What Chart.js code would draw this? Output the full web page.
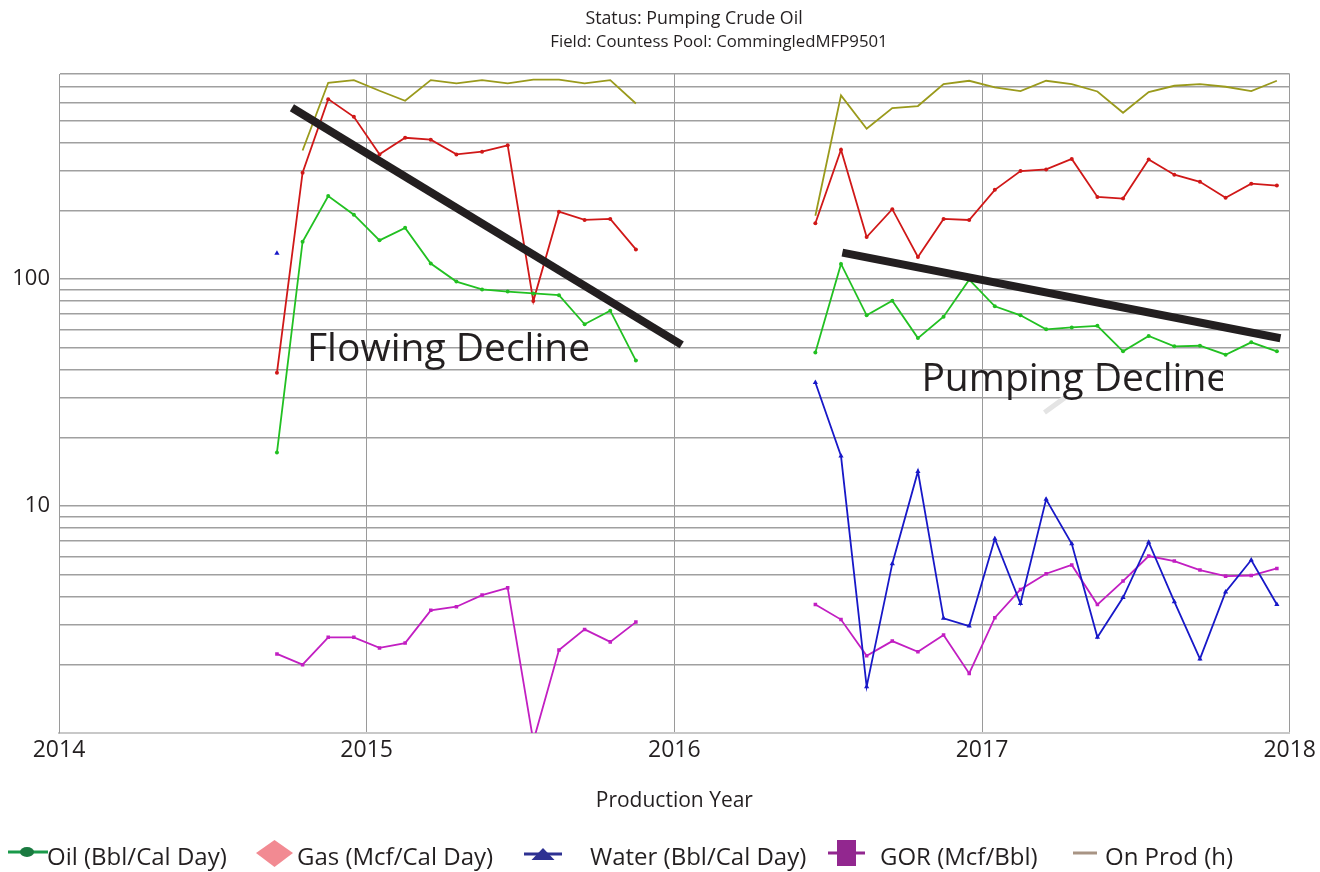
<!DOCTYPE html>
<html>
<head>
<meta charset="utf-8">
<script src="https://cdn.jsdelivr.net/npm/chart.js@4.4.1/dist/chart.umd.min.js"></script>
<style>
  html, body { margin: 0; padding: 0; background: #fff; }
  body { width: 1320px; height: 872px; position: relative; overflow: hidden; font-family: "Open Sans", sans-serif; color: #231f20; }
  #wrap { position: absolute; left: 0; top: 0; width: 1320px; height: 872px; }
  .title { position: absolute; width: 500px; text-align: center; font-size: 17px; line-height: 24px; white-space: nowrap; }
  .leg { position: absolute; top: 838px; height: 36px; font-size: 24px; line-height: 36px; white-space: nowrap; }
  .leg svg { position: absolute; top: 0; }
</style>
</head>
<body>
<div id="wrap"><canvas id="prodChart"></canvas></div>
<div class="title" style="top:5px;left:444px;font-size:17.8px">Status: Pumping Crude Oil</div>
<div class="title" style="top:29px;left:469px;font-size:16.8px">Field: Countess Pool: CommingledMFP9501</div>

<div class="leg" style="left:8px">
  <svg width="42" height="36"><line x1="0" y1="14" x2="40" y2="14" stroke="#1a9a4a" stroke-width="3"/><ellipse cx="19" cy="14" rx="7" ry="5" fill="#1a7a40"/></svg>
  <span style="position:absolute;left:39px">Oil (Bbl/Cal Day)</span>
</div>
<div class="leg" style="left:256px">
  <svg width="38" height="36"><polygon points="0,15 18.5,2 37,15 18.5,29" fill="#f28a92"/></svg>
  <span style="position:absolute;left:41px">Gas (Mcf/Cal Day)</span>
</div>
<div class="leg" style="left:524px">
  <svg width="40" height="36"><line x1="0" y1="16" x2="38" y2="16" stroke="#2e3192" stroke-width="3"/><polygon points="7.5,22 30.5,22 19,10" fill="#2e3192"/></svg>
  <span style="position:absolute;left:66px">Water (Bbl/Cal Day)</span>
</div>
<div class="leg" style="left:828px">
  <svg width="40" height="36"><line x1="0" y1="15" x2="37" y2="15" stroke="#92278f" stroke-width="3"/><rect x="9" y="2" width="19" height="26" fill="#92278f"/></svg>
  <span style="position:absolute;left:52px">GOR (Mcf/Bbl)</span>
</div>
<div class="leg" style="left:1073px">
  <svg width="26" height="36"><line x1="0" y1="15" x2="24" y2="15" stroke="#a89484" stroke-width="3"/></svg>
  <span style="position:absolute;left:32px">On Prod (h)</span>
</div>

<script>
// monthly values
var months1 = ['2014-09','2014-10','2014-11','2014-12','2015-01','2015-02','2015-03','2015-04','2015-05','2015-06','2015-07','2015-08','2015-09','2015-10','2015-11'];
var months2 = ['2016-06','2016-07','2016-08','2016-09','2016-10','2016-11','2016-12','2017-01','2017-02','2017-03','2017-04','2017-05','2017-06','2017-07','2017-08','2017-09','2017-10','2017-11','2017-12'];

var oil1 = [17.2, 146, 232, 192, 148, 168, 117, 97.4, 90.0, 88.0, 86.4, 84.9, 63.2, 72.5, 43.7];
var oil2 = [47.5, 116.5, 69.2, 80.2, 54.9, 68.2, 99.3, 75.8, 69.2, 60.0, 61.2, 62.2, 48.0, 56.1, 50.5, 50.8, 46.4, 52.6, 48.0];

var gas1 = [38.6, 294, 620, 518, 354, 419, 411, 354, 364, 388, 79.9, 198, 182, 184, 135];
var gas2 = [176, 371, 153, 203, 125, 184, 182, 247, 299, 304, 338, 230, 226, 336, 288, 268, 228, 263, 258];

var water1 = [130, null, null, null, null, null, null, null, null, null, null, null, null, null, null];
var water2 = [35.0, 16.6, 1.60, 5.57, 14.2, 3.20, 2.96, 7.18, 3.72, 10.7, 6.82, 2.64, 3.95, 6.93, 3.79, 2.12, 4.18, 5.78, 3.68];

var gor1 = [2.23, 2.00, 2.64, 2.64, 2.37, 2.49, 3.47, 3.60, 4.05, 4.36, 0.92, 2.32, 2.86, 2.52, 3.08];
var gor2 = [3.68, 3.16, 2.19, 2.54, 2.28, 2.70, 1.83, 3.22, 4.29, 5.03, 5.50, 3.68, 4.67, 6.02, 5.72, 5.22, 4.91, 4.94, 5.31];

var onProd1 = [null, 368, 732, 752, 675, 610, 752, 728, 752, 728, 755, 755, 728, 752, 593];
var onProd2 = [190, 644, 459, 566, 578, 722, 747, 698, 673, 747, 722, 670, 540, 666, 710, 722, 703, 673, 747];

// hand drawn decline lines (year, rate)
var flowingTrend = [[2014.757, 568], [2016.024, 51.3]];
var pumpingTrend = [[2016.546, 130.6], [2017.97, 54.8]];
var strayMark = [[2017.203, 25.8], [2017.275, 30.4]];

var yearTicks = [2014, 2015, 2016, 2017, 2018];
var yTicks = [1,2,3,4,5,6,7,8,9,10,20,30,40,50,60,70,80,90,100,200,300,400,500,600,700,800];
var yLabels = [10, 100];

function toYear(m){
  var p = m.split('-');
  return +p[0] + (+p[1] - 0.5) / 12;
}
function pts(months, vals){
  var out = [];
  for (var i in months) out.push({x: toYear(months[i]), y: vals[i]});
  return out;
}
function pairs(arr){
  return arr.map(function(p){ return {x: p[0], y: p[1]}; });
}

var notes = {
  id: 'notes',
  afterDatasetsDraw: function(chart){
    var ctx = chart.ctx, x = chart.scales.x, y = chart.scales.y;
    ctx.save();
    ctx.font = '39px "Open Sans"';
    ctx.fillStyle = '#231f20';
    ctx.textBaseline = 'alphabetic';
    ctx.fillText('Flowing Decline', x.getPixelForValue(2014.806), y.getPixelForValue(43.5));
    ctx.beginPath();
    ctx.rect(0, 0, 1223, chart.height);
    ctx.clip();
    ctx.fillText('Pumping Decline', x.getPixelForValue(2016.803), y.getPixelForValue(32.2));
    ctx.restore();
  }
};

function series(label, data, color, style, radius){
  return {
    label: label, data: data, borderColor: color, backgroundColor: color,
    borderWidth: 1.8, pointStyle: style, pointRadius: radius, pointBorderWidth: 0,
    spanGaps: false, tension: 0
  };
}

var ctx = document.getElementById('prodChart');
var prodChart = new Chart(ctx, {
  type: 'line',
  data: {
    datasets: [
      {label: 'flowing', data: pairs(flowingTrend), borderColor: '#231f20', borderWidth: 8, pointRadius: 0, borderCapStyle: 'butt'},
      {label: 'pumping', data: pairs(pumpingTrend), borderColor: '#231f20', borderWidth: 8, pointRadius: 0, borderCapStyle: 'butt'},
      series('Oil (Bbl/Cal Day)', pts(months1, oil1), '#22c022', 'circle', 2),
      series('Oil (Bbl/Cal Day) 2', pts(months2, oil2), '#22c022', 'circle', 2),
      series('Gas (Mcf/Cal Day)', pts(months1, gas1), '#d01818', 'circle', 2),
      series('Gas (Mcf/Cal Day) 2', pts(months2, gas2), '#d01818', 'circle', 2),
      series('Water (Bbl/Cal Day)', pts(months1, water1), '#1818c8', 'triangle', 3),
      series('Water (Bbl/Cal Day) 2', pts(months2, water2), '#1818c8', 'triangle', 3),
      series('GOR (Mcf/Bbl)', pts(months1, gor1), '#c21fc2', 'rect', 2.5),
      series('GOR (Mcf/Bbl) 2', pts(months2, gor2), '#c21fc2', 'rect', 2.5),
      series('On Prod (h)', pts(months1, onProd1), '#9a9a1c', 'circle', 0),
      series('On Prod (h) 2', pts(months2, onProd2), '#9a9a1c', 'circle', 0),
      {label: 'mark', data: pairs(strayMark), borderColor: '#e4e4e4', borderWidth: 5, pointRadius: 0}
    ]
  },
  options: {
    responsive: true,
    maintainAspectRatio: false,
    animation: false,
    layout: {padding: {top: 74, left: 0, right: 30, bottom: 60}},
    plugins: {legend: {display: false}, tooltip: {enabled: false}},
    scales: {
      x: {
        type: 'linear', min: 2014, max: 2018,
        afterBuildTicks: function(s){ s.ticks = yearTicks.map(function(v){ return {value: v}; }); },
        afterFit: function(s){ s.height = 79; },
        ticks: {font: {family: 'Open Sans', size: 23}, color: '#231f20', padding: 4, callback: function(v){ return String(v); }},
        grid: {color: '#9a9a9a', lineWidth: 1, drawTicks: false},
        border: {color: '#c8c8c8', width: 2},
        title: {display: true, text: 'Production Year', font: {family: 'Open Sans', size: 21}, color: '#231f20', padding: {top: 0, bottom: -2}}
      },
      y: {
        type: 'logarithmic', min: 1, max: 800,
        afterBuildTicks: function(s){ s.ticks = yTicks.map(function(v){ return {value: v}; }); },
        afterFit: function(s){ s.width = 59; },
        ticks: {autoSkip: false, font: {family: 'Open Sans', size: 22}, color: '#231f20', padding: 9,
          callback: function(v){ return yLabels.indexOf(v) >= 0 ? String(v) : ''; }},
        grid: {color: '#a0a0a0', lineWidth: 1.4, drawTicks: false},
        border: {color: '#9a9a9a', width: 1}
      }
    }
  },
  plugins: [notes]
});
</script>
</body>
</html>
